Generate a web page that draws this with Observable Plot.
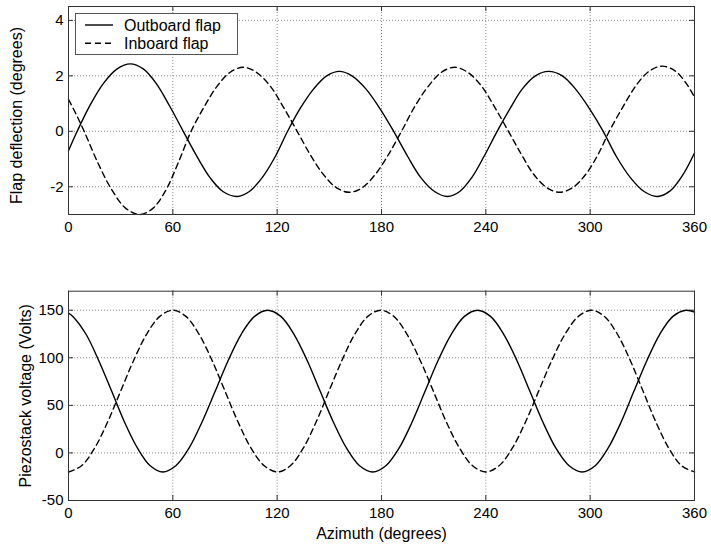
<!DOCTYPE html>
<html><head><meta charset="utf-8">
<script src="https://cdn.jsdelivr.net/npm/d3@7"></script>
<script src="https://cdn.jsdelivr.net/npm/@observablehq/plot@0.6"></script>
<style>
body{margin:0;background:#fff;font-family:"Liberation Sans",Arial,Helvetica,sans-serif;}
#wrap{position:relative;width:711px;height:550px;}
#wrap svg{display:block;}
#legend{position:absolute;left:75px;top:13px;}
</style></head><body><div id="wrap"></div>
<script>
// ---- Data ----
const azimuthTicks = [0, 60, 120, 180, 240, 300, 360];
const deflTicks = [-2, 0, 2, 4];
const voltTicks = [-50, 0, 50, 100, 150];
const seriesNames = ["Outboard flap", "Inboard flap"];

// Flap deflection (degrees) — outboard flap
const outboardDeflAz = [0,5,12.5,20,28,35.5,43,50.5,58,66,74,81.5,89,97,104,111.5,119,126,133.5,141,148.5,155.8,163,171,179,187,195,202.5,210.5,218,225,232,239,246.5,254,261,268.5,276,284,291.5,299.5,307.5,315,323,331,338.7,346,353,360];
const outboardDefl   = [-0.70,0,0.95,1.72,2.25,2.43,2.25,1.72,0.93,0,-0.92,-1.68,-2.18,-2.35,-2.17,-1.66,-0.9,0,0.85,1.53,2.0,2.16,2.0,1.53,0.83,0,-0.9,-1.66,-2.17,-2.35,-2.17,-1.66,-0.9,0,0.83,1.53,2.0,2.16,2.0,1.53,0.83,0,-0.9,-1.66,-2.17,-2.35,-2.15,-1.6,-0.78];
// Flap deflection (degrees) — inboard flap
const inboardDeflAz = [0,4.5,9,17,25,33,41,48.5,56,63,70.5,78,85.5,93,100.5,108,116,123.5,131.5,139,146.5,154,161.5,169,176.5,184,191.5,199,207,214.5,222,229.5,237.5,245,253,260.5,267.5,275,282.5,290,297.5,304.5,311,319,326.5,334,341.5,349,355,360];
const inboardDefl   = [1.15,0.6,0,-1.15,-2.12,-2.78,-3.0,-2.78,-2.12,-1.15,0,0.88,1.63,2.13,2.31,2.13,1.63,0.88,0,-0.84,-1.55,-2.03,-2.2,-2.03,-1.55,-0.84,0,0.88,1.63,2.13,2.31,2.13,1.63,0.88,0,-0.84,-1.55,-2.03,-2.2,-2.03,-1.55,-0.84,0,0.9,1.66,2.17,2.35,2.17,1.75,1.23];

// Piezostack voltage (Volts) — outboard flap
const outboardVoltAz = [0,2.5,10,17.3,24.8,32.2,39.7,47,54.2,61.7,69.3,76.8,84.4,91.9,99.4,107,114.5,122.1,129.6,137.2,144.7,152.3,159.9,167.4,175,182.5,190.1,197.6,205.1,212.6,220.2,227.7,235.2,242.7,250.2,257.8,265.3,272.8,280.3,287.9,295.4,302.9,310.3,317.8,325.2,332.7,340.1,347.6,355,360];
const outboardVolt   = [147,143.5,125,97.5,65,32.5,5,-13.5,-20,-13.5,5,32.5,65,97.5,125,143.5,150,143.5,125,97.5,65,32.5,5,-13.5,-20,-13.5,5,32.5,65,97.5,125,143.5,150,143.5,125,97.5,65,32.5,5,-13.5,-20,-13.5,5,32.5,65,97.5,125,143.5,150,148];
// Piezostack voltage (Volts) — inboard flap
const inboardVoltAz = [0,7.5,15,22.5,30,37.5,45,52.5,60,67.5,75,82.5,90,97.5,105,112.6,120.2,127.6,135,142.4,149.8,157.3,164.7,172.1,179.5,187.1,194.6,202.2,209.8,217.3,224.9,232.4,240,247.6,255.2,262.8,270.4,278,285.6,293.2,300.8,308.2,315.6,323,330.4,337.8,345.2,352.6,360];
const inboardVolt   = [-20,-13.5,5,32.5,65,97.5,125,143.5,150,143.5,125,97.5,65,32.5,5,-13.5,-20,-13.5,5,32.5,65,97.5,125,143.5,150,143.5,125,97.5,65,32.5,5,-13.5,-20,-13.5,5,32.5,65,97.5,125,143.5,150,143.5,125,97.5,65,32.5,5,-13.5,-20];

// ---- Layout ----
const FONT = '"Liberation Sans", Arial, Helvetica, sans-serif';
const W = 711, ML = 68, MR = 17;
const FRAME = "#333";
const GRID = "#8a8a8a";
const DASH = "6,4";

function panel({height, marginTop, marginBottom, yDomain, yTicks, yLabel, yLabelDx, yLabelDy, xLabel, outAz, out, inAz, inn}) {
  const innerH = height - marginTop - marginBottom;
  const innerW = W - ML - MR;
  const marks = [
    Plot.gridX(azimuthTicks.slice(1, -1), {stroke: GRID, strokeOpacity: 1, strokeDasharray: "1,2"}),
    Plot.gridY(yTicks, {stroke: GRID, strokeOpacity: 1, strokeDasharray: "1,2"}),
    Plot.tickX(azimuthTicks, {x: d => d, insetTop: innerH - 5, stroke: FRAME}),
    Plot.tickX(azimuthTicks, {x: d => d, insetBottom: innerH - 5, stroke: FRAME}),
    Plot.tickY(yTicks, {y: d => d, insetLeft: innerW - 5, stroke: FRAME}),
    Plot.tickY(yTicks, {y: d => d, insetRight: innerW - 5, stroke: FRAME}),
    Plot.axisX(azimuthTicks, {tickSize: 0, tickPadding: 7, label: null, tickFormat: d => String(d), fill: "#000"}),
    Plot.axisY(yTicks, {tickSize: 0, tickPadding: 5, label: null, tickFormat: d => String(d), fill: "#000"}),
    Plot.line(out, {x: (d, i) => outAz[i], y: d => d, curve: "catmull-rom", stroke: "#000", strokeWidth: 1.4}),
    Plot.line(inn, {x: (d, i) => inAz[i], y: d => d, curve: "catmull-rom", stroke: "#000", strokeWidth: 1.4, strokeDasharray: DASH}),
    Plot.frame({stroke: FRAME, strokeWidth: 1}),
    Plot.text([yLabel], {text: d => d, frameAnchor: "left", rotate: -90, dx: yLabelDx, dy: yLabelDy, fontSize: 16, lineAnchor: "middle", textAnchor: "middle", fill: "#000"})
  ];
  if (xLabel) marks.push(Plot.text([xLabel], {text: d => d, frameAnchor: "bottom", dy: 33, fontSize: 16, lineAnchor: "middle", textAnchor: "middle", fill: "#000"}));
  return Plot.plot({
    width: W, height, marginTop, marginBottom, marginLeft: ML, marginRight: MR,
    style: {fontFamily: FONT, fontSize: "15px", color: "#000", background: "white", overflow: "visible"},
    x: {domain: [0, 360]},
    y: {domain: yDomain},
    marks
  });
}

const wrap = document.getElementById("wrap");
wrap.appendChild(panel({
  height: 240, marginTop: 6, marginBottom: 26,
  yDomain: [-3, 4.5], yTicks: deflTicks,
  yLabel: "Flap deflection (degrees)", yLabelDx: -52, yLabelDy: 5,
  xLabel: null,
  outAz: outboardDeflAz, out: outboardDefl, inAz: inboardDeflAz, inn: inboardDefl
}));
wrap.appendChild(panel({
  height: 310, marginTop: 50.7, marginBottom: 50,
  yDomain: [-50, 170], yTicks: voltTicks,
  yLabel: "Piezostack voltage (Volts)", yLabelDx: -43, yLabelDy: 0,
  xLabel: "Azimuth (degrees)",
  outAz: outboardVoltAz, out: outboardVolt, inAz: inboardVoltAz, inn: inboardVolt
}));

// Legend box (top panel, upper left)
const ns = "http://www.w3.org/2000/svg";
const lg = document.createElementNS(ns, "svg");
lg.setAttribute("id", "legend");
lg.setAttribute("width", 164);
lg.setAttribute("height", 43);
const rect = document.createElementNS(ns, "rect");
Object.entries({x: 0.5, y: 0.5, width: 162, height: 41, fill: "#fff", stroke: "#555"}).forEach(([k, v]) => rect.setAttribute(k, v));
lg.appendChild(rect);
seriesNames.forEach((name, i) => {
  const yy = 12 + i * 18.3;
  const ln = document.createElementNS(ns, "line");
  Object.entries({x1: 10, x2: 38, y1: yy, y2: yy, stroke: "#000", "stroke-width": 1.4}).forEach(([k, v]) => ln.setAttribute(k, v));
  if (i === 1) ln.setAttribute("stroke-dasharray", DASH);
  lg.appendChild(ln);
  const tx = document.createElementNS(ns, "text");
  tx.setAttribute("x", 49);
  tx.setAttribute("y", yy);
  tx.setAttribute("dy", "0.35em");
  tx.setAttribute("font-size", 16);
  tx.setAttribute("font-family", FONT);
  tx.textContent = name;
  lg.appendChild(tx);
});
wrap.appendChild(lg);
</script>
</body></html>
